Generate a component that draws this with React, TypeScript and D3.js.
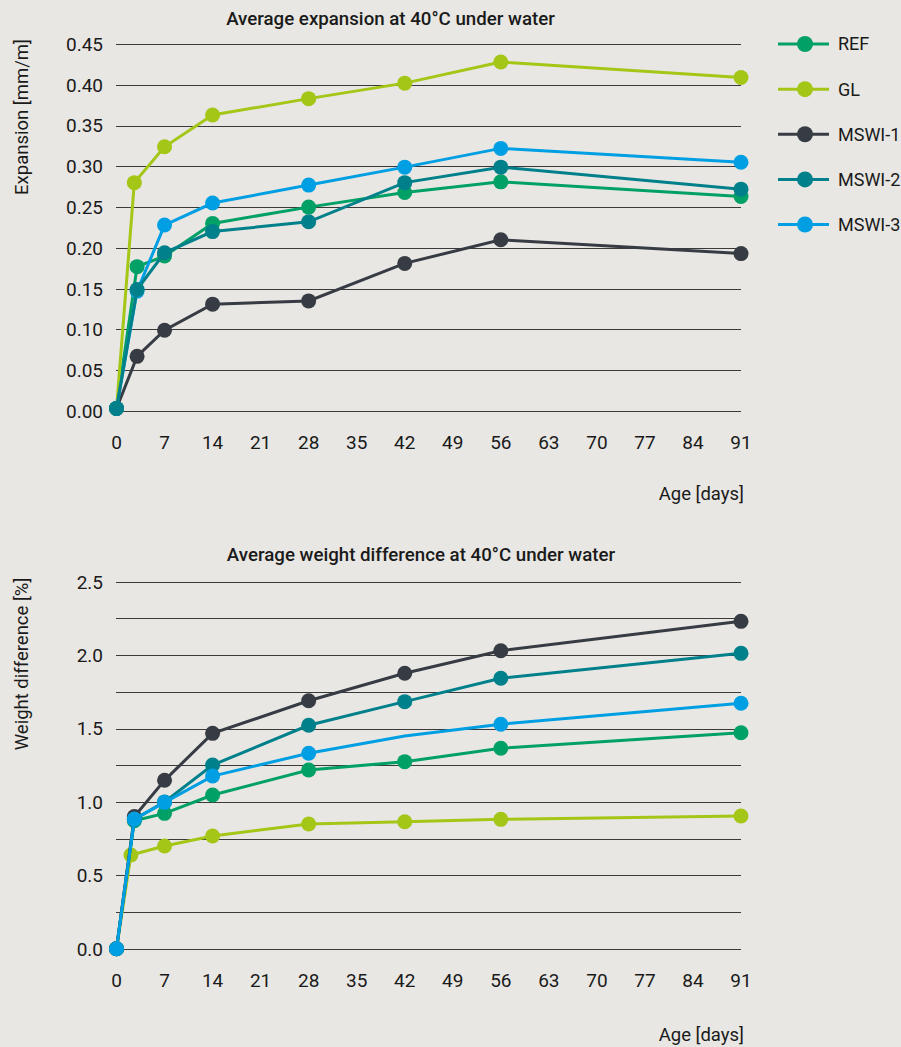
import React from "react";
import * as d3 from "d3";

const seriesNames = ["REF", "GL", "MSWI-1", "MSWI-2", "MSWI-3"];
const seriesColors = ["#00a066", "#a4c616", "#373b43", "#00808a", "#009fe3"];

const xTicks = [0, 7, 14, 21, 28, 35, 42, 49, 56, 63, 70, 77, 84, 91];

// Expansion chart
const expDays = [0, 3, 7, 14, 28, 42, 56, 91];
const expGLDays = [0, 2.6, 7, 14, 28, 42, 56, 91];
const expREF = [0.003, 0.177, 0.19, 0.23, 0.25, 0.268, 0.281, 0.263];
const expGL = [0.003, 0.28, 0.324, 0.363, 0.383, 0.402, 0.428, 0.409];
const expMSWI1 = [0.003, 0.067, 0.099, 0.131, 0.135, 0.181, 0.21, 0.193];
const expMSWI2 = [0.003, 0.149, 0.194, 0.22, 0.232, 0.28, 0.299, 0.272];
const expMSWI3 = [0.003, 0.147, 0.228, 0.255, 0.277, 0.299, 0.322, 0.305];
const expYTicks = [0, 0.05, 0.1, 0.15, 0.2, 0.25, 0.3, 0.35, 0.4, 0.45];

// Weight chart
const wDays = [0, 2.6, 7, 14, 28, 42, 56, 91];
const wGLDays = [0, 2.1, 7, 14, 28, 42, 56, 91];
const wREF = [0, 0.872, 0.922, 1.047, 1.217, 1.274, 1.365, 1.471];
const wGL = [0, 0.638, 0.7, 0.768, 0.849, 0.865, 0.881, 0.904];
const wMSWI1 = [0, 0.9, 1.147, 1.467, 1.689, 1.876, 2.03, 2.23];
const wMSWI2 = [0, 0.88, 1.0, 1.251, 1.522, 1.683, 1.842, 2.012];
const wMSWI3 = [0, 0.883, 0.997, 1.176, 1.331, 1.449, 1.529, 1.672];
const wMSWI3Markers = [true, true, true, true, true, false, true, true];
const wGrid = [0, 0.25, 0.5, 0.75, 1, 1.25, 1.5, 1.75, 2, 2.25, 2.5];
const wLabels = [0, 0.5, 1, 1.5, 2, 2.5];

const FONT = "Roboto, 'Liberation Sans', Arial, sans-serif";
const BG = "#e8e7e3";
const INK = "#1a1a1a";

type Series = { idx: number; days: number[]; vals: number[]; markers?: boolean[] };

function Chart(props: {
  y0: number;
  y1: number;
  domain: [number, number];
  grid: number[];
  labels: number[];
  fmt: (v: number) => string;
  series: Series[];
  title: string;
  titleX: number;
  titleY: number;
  yTitle: string;
  yTitleY: number;
  xTickY: number;
  ageY: number;
}) {
  const x = d3.scaleLinear().domain([0, 91]).range([116.5, 741]);
  const y = d3.scaleLinear().domain(props.domain).range([props.y1, props.y0]);
  const line = d3
    .line<[number, number]>()
    .x((d) => x(d[0]))
    .y((d) => y(d[1]));
  return (
    <g>
      <text x={props.titleX} y={props.titleY} textAnchor="middle" fontFamily={FONT} fontSize={18.7} fontWeight={500} fill={INK}>
        {props.title}
      </text>
      <text
        transform={`translate(28,${props.yTitleY}) rotate(-90)`}
        textAnchor="middle"
        fontFamily={FONT}
        fontSize={18.5}
        fill={INK}
      >
        {props.yTitle}
      </text>
      {props.grid.map((g) => (
        <line key={g} x1={116} x2={741} y1={Math.round(y(g)) + 0.5} y2={Math.round(y(g)) + 0.5} stroke="#3a3a3a" strokeWidth={1} />
      ))}
      {props.labels.map((g) => (
        <text key={g} x={103} y={y(g)} dy="0.36em" textAnchor="end" fontFamily={FONT} fontSize={19} fill={INK}>
          {props.fmt(g)}
        </text>
      ))}
      {xTicks.map((t) => (
        <text key={t} x={x(t)} y={props.xTickY} textAnchor="middle" fontFamily={FONT} fontSize={19} fill={INK}>
          {t}
        </text>
      ))}
      <text x={744} y={props.ageY} textAnchor="end" fontFamily={FONT} fontSize={18.5} fill={INK}>
        Age [days]
      </text>
      {props.series.map((s) => {
        const pts: [number, number][] = s.days.map((d, i) => [d, s.vals[i]]);
        const c = seriesColors[s.idx];
        return (
          <g key={s.idx}>
            <path d={line(pts) || ""} fill="none" stroke={c} strokeWidth={3} />
            {pts.map((p, i) =>
              s.markers && !s.markers[i] ? null : <circle key={i} cx={x(p[0])} cy={y(p[1])} r={7.5} fill={c} />
            )}
          </g>
        );
      })}
    </g>
  );
}

export default function App() {
  const legendY = d3.scalePoint<string>().domain(seriesNames).range([44, 224.5]);
  return (
    <svg width={901} height={1047} style={{ position: "absolute", left: 0, top: 0, background: BG }}>
      <rect x={0} y={0} width={901} height={1047} fill={BG} />
      <Chart
        y0={44}
        y1={411}
        domain={[0, 0.45]}
        grid={expYTicks}
        labels={expYTicks}
        fmt={d3.format(".2f")}
        series={[
          { idx: 0, days: expDays, vals: expREF },
          { idx: 1, days: expGLDays, vals: expGL },
          { idx: 2, days: expDays, vals: expMSWI1 },
          { idx: 4, days: expDays, vals: expMSWI3 },
          { idx: 3, days: expDays, vals: expMSWI2 },
        ]}
        title="Average expansion at 40°C under water"
        titleX={390.5}
        titleY={25}
        yTitle="Expansion [mm/m]"
        yTitleY={117}
        xTickY={449}
        ageY={500}
      />
      <Chart
        y0={581.7}
        y1={948.7}
        domain={[0, 2.5]}
        grid={wGrid}
        labels={wLabels}
        fmt={d3.format(".1f")}
        series={[
          { idx: 0, days: wDays, vals: wREF },
          { idx: 1, days: wGLDays, vals: wGL },
          { idx: 2, days: wDays, vals: wMSWI1 },
          { idx: 3, days: wDays, vals: wMSWI2 },
          { idx: 4, days: wDays, vals: wMSWI3, markers: wMSWI3Markers },
        ]}
        title="Average weight difference at 40°C under water"
        titleX={421}
        titleY={561}
        yTitle="Weight difference [%]"
        yTitleY={664}
        xTickY={987}
        ageY={1041}
      />
      {seriesNames.map((n, i) => {
        const ly = legendY(n) as number;
        return (
          <g key={n}>
            <line x1={778} x2={829} y1={ly} y2={ly} stroke={seriesColors[i]} strokeWidth={3} />
            <circle cx={805} cy={ly} r={8} fill={seriesColors[i]} />
            <text x={838} y={ly} dy="0.36em" fontFamily={FONT} fontSize={18} fill={INK}>
              {n}
            </text>
          </g>
        );
      })}
    </svg>
  );
}
